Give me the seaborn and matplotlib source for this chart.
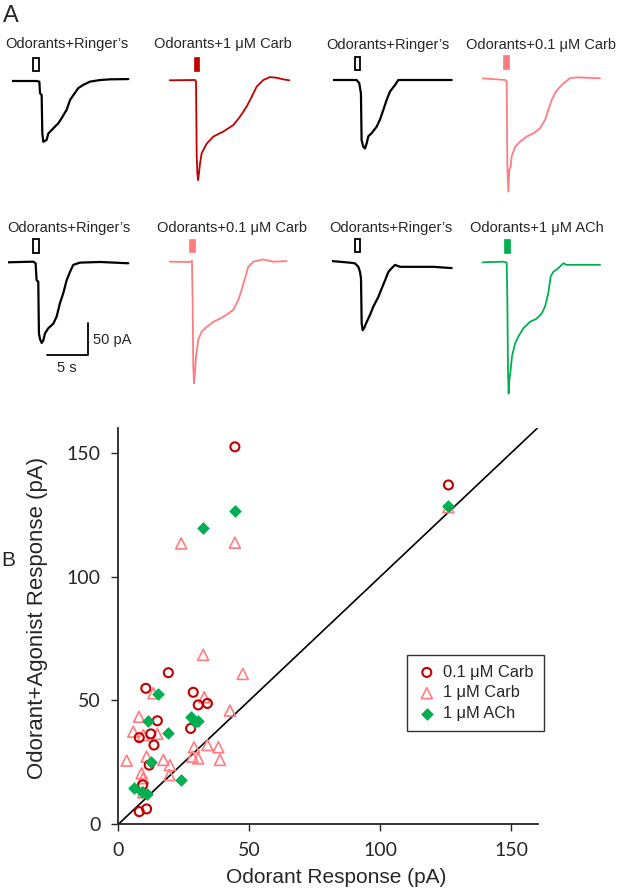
import numpy as np
import pandas as pd
import seaborn as sns
import matplotlib.pyplot as plt
from matplotlib.patches import Rectangle

sns.set_style('ticks')
plt.rcParams['font.family'] = ['Liberation Sans', 'DejaVu Sans']

# ---- panel A: example traces, time (s) vs current (pA)
t1 = [0, 3.01, 3.33, 3.41, 3.61, 3.69, 3.81, 4.21, 4.41, 5.01, 5.62, 6.02, 6.62, 7.02, 7.43, 8.03, 8.63, 9.43, 10.64, 11.84, 14.05]
i1 = [0, 0, -1, -19, -22, -82, -95, -92, -82, -74, -66, -58, -45, -30, -22, -11, -6, -1, 1.5, 2.6, 3]

t2 = [0, 3.10, 3.22, 3.30, 3.38, 3.46, 3.58, 3.70, 3.90, 4.50, 5.30, 6.51, 7.71, 8.51, 9.32, 9.92, 10.52, 11.33, 12.13, 12.93, 13.73, 14.46]
i2 = [0, 0.5, -2, -117, -145, -156, -145, -130, -114, -99, -88, -80, -70, -57, -41, -26, -10, 0.5, 5, 4, 1.5, 0]

t3 = [0, 2.81, 3.13, 3.33, 3.41, 3.61, 3.82, 4.02, 4.22, 4.62, 5.22, 5.62, 6.02, 6.43, 6.83, 7.43, 7.83, 14.26]
i3 = [0, 0, -5, -21, -94, -104, -107, -99, -88, -83, -73, -62, -47, -31, -18, -8, 0, 0]

t4 = [0, 2.81, 3.01, 3.09, 3.21, 3.33, 3.49, 3.61, 4.02, 4.62, 5.42, 6.22, 7.03, 7.63, 8.03, 8.43, 8.84, 9.24, 9.84, 10.64, 11.45, 14.26]
i4 = [0, -2.6, -5, -138, -177, -143, -138, -122, -107, -99, -91, -86, -78, -65, -49, -34, -23, -16, -8, 0, 1.5, 0]

t5 = [0, 3.01, 3.29, 3.41, 3.61, 3.69, 3.82, 4.02, 4.22, 4.42, 4.82, 5.42, 5.82, 6.22, 6.63, 7.03, 7.43, 7.83, 8.63, 11.04, 14.46]
i5 = [0, 1, -1.5, -28, -30, -111, -120, -126, -122, -111, -103, -96, -85, -64, -48, -28, -15, -4, -0.5, 0.5, -1.5]

t6 = [0, 2.49, 2.73, 2.81, 2.89, 2.97, 3.09, 3.21, 3.49, 3.90, 4.50, 5.30, 6.10, 6.91, 7.71, 8.31, 8.71, 9.12, 9.52, 10.12, 11.33, 12.53, 14.14]
i6 = [0, -0.5, 1.5, -61, -164, -190, -175, -149, -122, -109, -102, -94, -89, -83, -75, -60, -44, -26, -8, 0, 3.6, 0, 1]

t7 = [0, 2.21, 2.81, 3.21, 3.41, 3.53, 3.61, 3.73, 3.90, 4.22, 4.62, 5.02, 5.62, 6.02, 6.43, 6.83, 7.23, 7.63, 8.23, 12.25, 14.46]
i7 = [1, -1.5, -2.6, -8, -16, -26, -96, -107, -104, -94, -83, -70, -55, -42, -29, -16, -10, -5, -8, -8, -10]

t8 = [0, 2.61, 3.01, 3.09, 3.17, 3.25, 3.33, 3.49, 3.65, 4.02, 4.42, 5.02, 5.82, 6.63, 7.23, 7.63, 8.03, 8.31, 8.63, 9.24, 9.84, 10.24, 14.26]
i8 = [0, 1, -0.5, -59, -173, -205, -184, -168, -147, -127, -116, -103, -93, -88, -80, -69, -48, -22, -15, -9, -1.5, -4, -4]

trace_titles = ['Odorants+Ringer\u2019s', 'Odorants+1 \u03bcM Carb', 'Odorants+Ringer\u2019s', 'Odorants+0.1 \u03bcM Carb',
                'Odorants+Ringer\u2019s', 'Odorants+0.1 \u03bcM Carb', 'Odorants+Ringer\u2019s', 'Odorants+1 \u03bcM ACh']
stim_on = [2.60, 2.98, 2.61, 2.61, 3.01, 2.41, 2.81, 2.69]
stim_dur = [0.7, 0.65, 0.6, 0.7, 0.68, 0.68, 0.6, 0.7]
is_ringer = [True, False, True, False, True, False, True, False]

# ---- panel B: responses (pA)
carb01_x = [44.5, 126, 19.1, 10.5, 28.6, 30.5, 34.0, 14.9, 27.6, 8.0, 12.4, 13.6, 11.8, 9.3, 8.0, 10.8]
carb01_y = [152.4, 137, 61.2, 54.9, 53.3, 48.2, 48.8, 41.8, 38.7, 35.0, 36.5, 32.0, 23.9, 15.9, 5.1, 6.2]

carb1_x = [24.0, 44.5, 126, 32.4, 47.5, 13.4, 32.8, 42.6, 7.9, 5.7, 9.5, 14.9, 28.9, 34.0, 38.2, 3.2,
           10.8, 17.2, 19.7, 28.3, 30.5, 38.8, 8.9, 19.5, 9.5, 9.5]
carb1_y = [113.4, 113.7, 128, 68.4, 60.7, 52.9, 51.3, 45.9, 43.4, 37.4, 36.0, 36.5, 31.1, 32.0, 31.1, 25.7,
           27.3, 26.0, 23.9, 27.3, 26.6, 26.0, 20.6, 19.9, 18.6, 12.9]

ach_x = [44.5, 32.2, 126, 15.0, 11.2, 19.1, 27.6, 30.5, 29.3, 12.4, 24.0, 6.1, 8.9, 10.8]
ach_y = [126.5, 119.5, 128.5, 52.6, 41.8, 36.7, 43.4, 41.8, 41.5, 25.3, 18.0, 14.5, 13.2, 12.2]

W, H = 618, 893
fig = plt.figure(figsize=(W / 100, H / 100), dpi=100)


def px_axes(x0, y0, w, h):
    return fig.add_axes([x0 / W, 1 - (y0 + h) / H, w / W, h / H])


def ftext(x, y, s, **kw):
    fig.text(x / W, 1 - y / H, s, **kw)


# layout of the traces (start px, baseline px)
trace_pos = [(11.7, 81), (169.3, 80.3), (333.3, 80), (481.7, 78.3),
             (8.3, 262.3), (169.3, 261.7), (331.7, 261.7), (481.7, 262.3)]
title_pos = [(67, 48.3), (223, 48.3), (387.5, 49.3), (541, 49.3),
             (69, 231.7), (232, 231.7), (391, 231.7), (537, 231.7)]
RED, PINK, GREEN = '#C00000', '#FF7C80', '#00B050'
colors = ['black', RED, 'black', PINK, 'black', PINK, 'black', GREEN]
times = [t1, t2, t3, t4, t5, t6, t7, t8]
currents = [i1, i2, i3, i4, i5, i6, i7, i8]

PX_S, PX_PA = 8.3, 0.64
T_MAX, I_LO, I_HI = 14.8, -215, 45

for k in range(8):
    sx, by = trace_pos[k]
    ax = px_axes(sx, by - I_HI * PX_PA, T_MAX * PX_S, (I_HI - I_LO) * PX_PA)
    ax.set_xlim(0, T_MAX)
    ax.set_ylim(I_LO, I_HI)
    ax.axis('off')
    ax.patch.set_alpha(0)
    sns.lineplot(x=times[k], y=currents[k], ax=ax, color=colors[k],
                 lw=1.6 if is_ringer[k] else 1.3, sort=False, estimator=None)
    if is_ringer[k]:
        ax.add_patch(Rectangle((stim_on[k], 15), stim_dur[k], 21, facecolor='none',
                               edgecolor='black', lw=1.3))
    else:
        ax.add_patch(Rectangle((stim_on[k], 15), stim_dur[k], 21, facecolor=colors[k],
                               edgecolor=colors[k], lw=0.5))
    tx, ty = title_pos[k]
    ftext(tx, ty, trace_titles[k], ha='center', va='baseline', fontsize=10.5)
    if k == 4:
        # scale bar: 5 s, 50 pA
        bar_t, bar_i = 5, 50
        x_end, y_end = 9.64, -144.8
        ax.plot([x_end - bar_t, x_end, x_end], [y_end, y_end, y_end + bar_i], color='black', lw=1.3)

ftext(92.7, 344, '50 pA', ha='left', va='baseline', fontsize=10.5)
ftext(66.7, 371.7, '5 s', ha='center', va='baseline', fontsize=10.5)
ftext(3, 22, 'A', ha='left', va='baseline', fontsize=17)
ftext(1, 566, 'B', ha='left', va='baseline', fontsize=15)

# ---- panel B scatter
axb = px_axes(118.3, 428, 419.2, 396.3)
df = pd.DataFrame({
    'odor': carb01_x + carb1_x + ach_x,
    'agon': carb01_y + carb1_y + ach_y,
    'group': ['0.1 \u03bcM Carb'] * len(carb01_x) + ['1 \u03bcM Carb'] * len(carb1_x) + ['1 \u03bcM ACh'] * len(ach_x),
})

handles = {}
for g, m, c, s, lw, hollow in [('1 \u03bcM Carb', '^', PINK, 62, 1.2, True),
                               ('0.1 \u03bcM Carb', 'o', RED, 42, 1.5, True),
                               ('1 \u03bcM ACh', 'D', GREEN, 42, 0, False)]:
    sns.scatterplot(data=df[df.group == g], x='odor', y='agon', marker=m, s=s, color=c,
                    linewidth=lw, ax=axb, label=g, zorder=3)
    coll = axb.collections[-1]
    if hollow:
        coll.set_facecolor('none')
        coll.set_edgecolor(c)
    handles[g] = coll

axb.axline((0, 0), slope=1, color='black', lw=1.2, zorder=2)
axb.set_xlim(0, 160)
axb.set_ylim(0, 160)
axb.set_xticks([0, 50, 100, 150])
axb.set_yticks([0, 50, 100, 150])
sns.despine(ax=axb)
for sp in ['left', 'bottom']:
    axb.spines[sp].set_linewidth(1.3)
axb.tick_params(length=4.8, width=1, pad=8, labelsize=14)
for lab in axb.get_xticklabels() + axb.get_yticklabels():
    lab.set_fontfamily('Lato')
axb.set_xlabel('Odorant Response (pA)', fontsize=15)
axb.set_ylabel('Odorant+Agonist Response (pA)', fontsize=16)
axb.xaxis.set_label_coords(0.519, -0.11)
axb.yaxis.set_label_coords(-0.168, 0.52)

order = ['0.1 \u03bcM Carb', '1 \u03bcM Carb', '1 \u03bcM ACh']
leg = axb.legend([handles[g] for g in order], order, loc='upper left',
                 bbox_to_anchor=(0.689, 0.4275), borderaxespad=0, frameon=True,
                 fancybox=False, edgecolor='black', fontsize=11.8, labelspacing=0.35,
                 handletextpad=0.4, handlelength=1.2, borderpad=0.6)
leg.get_frame().set_linewidth(1.0)

fig.savefig('out.png', dpi=100)
